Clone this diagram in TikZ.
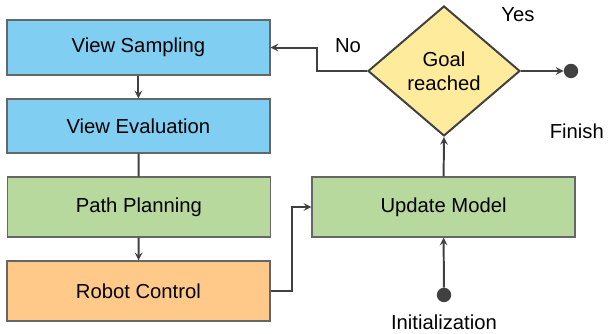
\documentclass[tikz,border=0pt]{standalone}
\usepackage{fontspec}
\setmainfont{Liberation Sans}
\usepackage{tikz}
\usepackage{xcolor}
\usetikzlibrary{shapes.geometric, arrows, positioning}

\definecolor{viewblue}{HTML}{80CEF2}
\definecolor{planggreen}{HTML}{B7D99D}
\definecolor{ctrlorange}{HTML}{FFC98A}
\definecolor{goalyellow}{HTML}{FEEB9C}
\definecolor{linegray}{HTML}{404040}

\tikzset{
    stagebox/.style={draw=gray!80!black, line width=0.9pt, minimum width=6.575cm, minimum height=1.5cm, inner sep=0pt},
    flow/.style={draw=linegray, line width=1.4pt, -stealth},
    dot/.style={circle, fill=linegray, inner sep=0pt, minimum size=0.36cm}
}

\begin{document}
\begin{tikzpicture}[font=\fontsize{14.4}{17}\selectfont]
    \useasboundingbox (0,0) rectangle (15.2,8.35);

    % Left column of stages
    \node[stagebox, fill=viewblue, minimum height=1.375cm] (sampling) at (3.46,7.16) {View Sampling};
    \node[stagebox, fill=viewblue, minimum height=1.35cm] (evaluation) at (3.46,5.2) {View Evaluation};
    \node[stagebox, fill=planggreen] (planning) at (3.47,3.175) {Path Planning};
    \node[stagebox, fill=ctrlorange] (control) at (3.46,1.075) {Robot Control};

    % Right column
    \node[stagebox, fill=planggreen] (update) at (11.09,3.175) {Update Model};
    \node[diamond, draw=linegray, line width=1.4pt, fill=goalyellow, inner sep=0pt,
          minimum width=3.8cm, minimum height=3.25cm, align=center] (goal) at (11.1,6.575) {Goal\\reached};

    \node[dot] (finish) at (14.275,6.575) {};
    \node[dot] (init) at (11.1,0.975) {};

    % Labels
    \node (yes) at (12.95,7.975) {Yes};
    \node (no) at (8.7,7.2) {No};
    \node (finishlabel) at (14.42,5.075) {Finish};
    \node (initlabel) at (11.1,0.3) {Initialization};

    % Connectors
    \draw[flow] (sampling) -- (evaluation);
    \draw[draw=linegray, line width=1.4pt] (evaluation) -- (planning);
    \draw[flow] (planning) -- (control);
    \draw[flow] (control.east) -- ++(0.525,0) |- (update.west);
    \draw[flow] (init) -- (update.south);
    \draw[flow] (update.north) -- (goal.south);
    \draw[flow] (goal.east) -- (finish.west);
    \draw[flow] (goal.west) -- ++(-1.25,0) |- (sampling.east);
\end{tikzpicture}
\end{document}
